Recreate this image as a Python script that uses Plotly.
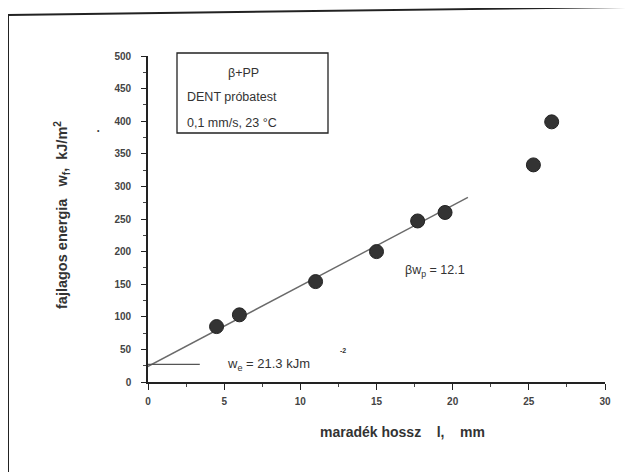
import plotly.graph_objects as go

# Data
lig_mm = [4.5, 6.0, 11.0, 15.0, 17.7, 19.5, 25.3, 26.5]
w_f = [85, 103, 154, 200, 247, 260, 333, 399]

fit_x = [-0.65, 21.0]
fit_y = [16, 283]

we_x = [0, 3.4]
we_y = [27, 27]

x_ticks = [0, 5, 10, 15, 20, 25, 30]
y_ticks = [0, 50, 100, 150, 200, 250, 300, 350, 400, 450, 500]

W, H = 634, 472
OFF = 8  # page body margin
X0, X1 = 148, 605   # screen pixels of x=0 and x=30
Y0, Y1 = 382, 56    # screen pixels of y=0 and y=500
pw, ph = X1 - X0, Y0 - Y1
L, T = X0 - OFF, Y1 - OFF
R, B = W - L - pw, H - T - ph


def px(xp):
    return (xp - X0) / pw


def py(yp):
    return (Y0 - yp) / ph


FONT = "Liberation Sans, Arial, sans-serif"
TXT = "#333333"

fig = go.Figure()
fig.add_trace(go.Scatter(x=fit_x, y=fit_y, mode="lines",
                         line=dict(color="#6a6a6a", width=1.4),
                         cliponaxis=False, hoverinfo="skip", showlegend=False))
fig.add_trace(go.Scatter(x=we_x, y=we_y, mode="lines",
                         line=dict(color="#555555", width=1.2),
                         cliponaxis=False, hoverinfo="skip", showlegend=False))
fig.add_trace(go.Scatter(x=lig_mm, y=w_f, mode="markers",
                         marker=dict(size=14, color="#333333",
                                     line=dict(color="#222222", width=1)),
                         cliponaxis=False, showlegend=False))

axis_common = dict(showgrid=False, zeroline=False, showline=True,
                   linecolor="#222222", linewidth=1.6, ticks="outside",
                   tickcolor="#222222", tickwidth=1.3,
                   tickfont=dict(family=FONT, size=10, color="#444444", weight="bold"))

fig.update_xaxes(range=[0, 30], tickvals=x_ticks, ticklen=6,
                 minor=dict(dtick=2.5, ticks="outside", ticklen=3, tickcolor="#444444"),
                 ticklabelstandoff=3, **axis_common)
fig.update_yaxes(range=[0, 500], tickvals=y_ticks, ticklen=5,
                 minor=dict(dtick=25, ticks="outside", ticklen=3, tickcolor="#444444"),
                 ticklabelstandoff=8, **axis_common)

shapes = [
    # outer frame (scanned page border)
    dict(type="line", xref="paper", yref="paper", x0=px(8), y0=py(15), x1=px(634), y1=py(7),
         line=dict(color="#222222", width=2)),
    dict(type="line", xref="paper", yref="paper", x0=px(8), y0=py(15), x1=px(8), y1=py(472),
         line=dict(color="#222222", width=2)),
    dict(type="line", xref="paper", yref="paper", x0=px(630), y0=py(8), x1=px(630), y1=py(472),
         line=dict(color="#bbbbbb", width=1)),
    # info box
    dict(type="rect", xref="paper", yref="paper", x0=px(177), y0=py(133), x1=px(328), y1=py(53),
         line=dict(color="#222222", width=1.3), fillcolor="rgba(0,0,0,0)"),
]

annos = [
    dict(text="β+PP", x=px(243), y=py(73), xanchor="center", size=12.5),
    dict(text="DENT próbatest", x=px(185), y=py(97), xanchor="left", size=12.5),
    dict(text="0,1 mm/s, 23 °C", x=px(185), y=py(123), xanchor="left", size=12.5),
    dict(text="βw<sub>p</sub> = 12.1", x=px(403), y=py(271), xanchor="left", size=12.5),
    dict(text="w<sub>e</sub> = 21.3 kJm", x=px(225), y=py(364), xanchor="left", size=13),
    dict(text="<b>-2</b>", x=px(343), y=py(350), xanchor="center", size=7),
    dict(text="•", x=px(98), y=py(130), xanchor="center", size=7),
    dict(text="<b>maradék hossz    l,    mm</b>", x=px(402), y=py(432), xanchor="center", size=14),
    dict(text="<b>fajlagos energia   w<sub>f</sub>,  kJ/m<sup>2</sup></b>", x=px(62), y=py(215),
         xanchor="center", size=14.5, textangle=-90),
]
annotations = []
for a in annos:
    annotations.append(dict(
        text=a["text"], x=a["x"], y=a["y"], xref="paper", yref="paper",
        xanchor=a["xanchor"], yanchor="middle", showarrow=False,
        textangle=a.get("textangle", 0),
        font=dict(family=FONT, size=a.get("size", 11.5), color=TXT)))

fig.update_layout(
    width=W, height=H,
    margin=dict(l=L, r=R, t=T, b=B),
    paper_bgcolor="white", plot_bgcolor="white",
    shapes=shapes, annotations=annotations,
    showlegend=False,
)

fig.write_html("out.html")
